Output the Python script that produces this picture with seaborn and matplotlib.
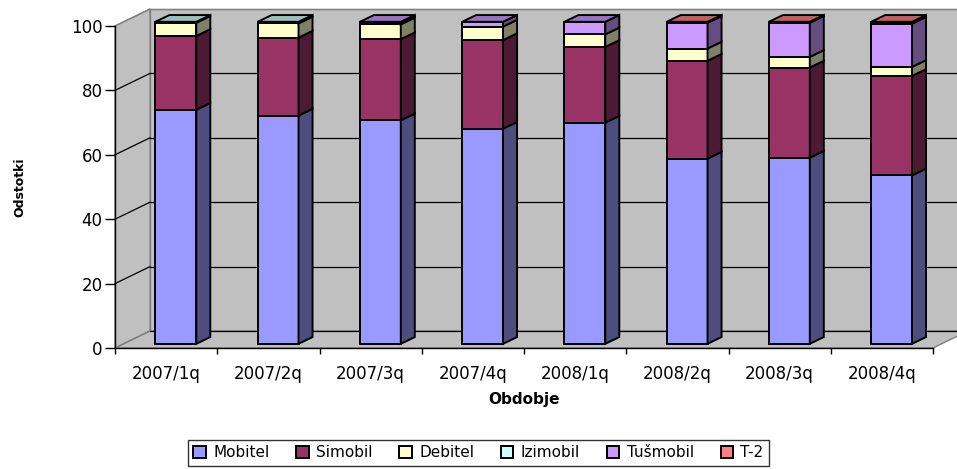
import numpy as np
import pandas as pd
import matplotlib
matplotlib.use("Agg")
import matplotlib.pyplot as plt
from matplotlib.patches import Polygon
from matplotlib.colors import to_rgb
import seaborn as sns

# deleži po četrtletjih (odčitano s slike)
obdobja = ["2007/1q", "2007/2q", "2007/3q", "2007/4q",
           "2008/1q", "2008/2q", "2008/3q", "2008/4q"]
operaterji = ["Mobitel", "Simobil", "Debitel", "Izimobil", "Tušmobil", "T-2"]
mobitel = [72.7, 70.9, 69.4, 66.8, 68.7, 57.5, 57.8, 52.3]
simobil = [22.9, 24.2, 25.2, 27.5, 23.5, 30.4, 28.0, 30.9]
debitel = [4.1, 4.4, 4.6, 4.2, 3.9, 3.8, 3.3, 2.8]
izimobil = [0.3, 0.5, 0.3, 0.0, 0.0, 0.0, 0.0, 0.0]
tusmobil = [0.0, 0.0, 0.5, 1.5, 3.9, 8.0, 10.6, 13.4]
t2 = [0.0, 0.0, 0.0, 0.0, 0.0, 0.3, 0.3, 0.6]
barve = ["#9999FF", "#993366", "#FFFFCC", "#CCFFFF", "#CC99FF", "#FF8080"]

df = pd.DataFrame({"Obdobje": obdobja, "Mobitel": mobitel, "Simobil": simobil,
                   "Debitel": debitel, "Izimobil": izimobil,
                   "Tušmobil": tusmobil, "T-2": t2})

sns.set_style("ticks")
plt.rcParams["font.family"] = ["DejaVu Sans"]
plt.rcParams["text.color"] = "black"
plt.rcParams["axes.labelcolor"] = "black"

fig = plt.figure(figsize=(9.57, 4.69), dpi=100)
ax = fig.add_axes([115 / 957, 121 / 469, 818 / 957, 322 / 469])
ax.set_facecolor("none")

# globina "3D" izgleda (v enotah osi)
DX, DY = 0.342, 5.28     # stena
BX, BY = 0.095, 1.3      # zamik stolpcev
SX, SY = 0.137, 2.1      # globina stolpca
x0, x1 = -0.5, len(obdobja) - 0.5
siva = "#C0C0C0"


def ploskev(tocke, fc, ec="black", lw=1.0, z=3):
    ax.add_patch(Polygon(tocke, closed=True, facecolor=fc, edgecolor=ec,
                         linewidth=lw, clip_on=False, zorder=z))


def temneje(c, f):
    return tuple(np.array(to_rgb(c)) * f)


# stene in tla
ploskev([(x0 + DX, DY), (x1 + DX, DY), (x1 + DX, 100 + DY), (x0 + DX, 100 + DY)],
        siva, "#808080", 1.0, 0.1)
ploskev([(x0, 0), (x0 + DX, DY), (x0 + DX, 100 + DY), (x0, 100)],
        siva, "#808080", 1.0, 0.1)
ploskev([(x0, 0), (x1, 0), (x1 + DX, DY), (x0 + DX, DY)], siva, "#808080", 1.0, 0.2)
for v in range(0, 101, 20):
    barva = "#808080" if v in (0, 100) else "black"
    ax.plot([x0, x0 + DX], [v, v + DY], color=barva, lw=0.9, clip_on=False, zorder=0.3)
    ax.plot([x0 + DX, x1 + DX], [v + DY, v + DY],
            color="black" if v == 0 else barva, lw=0.9, clip_on=False, zorder=0.3)

# naloženi stolpci
dno = np.zeros(len(obdobja))
stolpci = {}
for ime, barva in zip(operaterji, barve):
    n0 = len(ax.patches)
    sns.barplot(data=df, x="Obdobje", y=ime, bottom=dno, color=barva, saturation=1,
                width=0.4, edgecolor="black", linewidth=1.4, errorbar=None,
                label=ime, zorder=3, ax=ax)
    nove = list(ax.patches[n0:])
    for p in nove:
        p.set_x(p.get_x() + BX)
        p.set_y(p.get_y() + BY)
        p.set_clip_on(False)
    stolpci[ime] = nove
    for p in nove:
        h = p.get_height()
        if h <= 0:
            continue
        xa = p.get_x() + p.get_width()
        ya = p.get_y()
        ploskev([(xa, ya), (xa + SX, ya + SY), (xa + SX, ya + h + SY), (xa, ya + h)],
                temneje(barva, 0.5), lw=1.4)
    dno = dno + df[ime].to_numpy()

# pokrovi na vrhu
for i in range(len(obdobja)):
    for ime, barva in zip(operaterji[::-1], barve[::-1]):
        p = stolpci[ime][i]
        if p.get_height() > 0:
            xa, xb = p.get_x(), p.get_x() + p.get_width()
            yt = p.get_y() + p.get_height()
            ploskev([(xa, yt), (xb, yt), (xb + SX, yt + SY), (xa + SX, yt + SY)],
                    temneje(barva, 0.75), lw=1.4)
            break

ax.set_xlim(x0, x1)
ax.set_ylim(0, 100)
ax.set_yticks(range(0, 101, 20))
ax.set_xticks(range(len(obdobja)))
ax.set_xticklabels(obdobja)
ax.set_xticks(np.arange(x0, x1 + 0.01, 1), minor=True)
ax.tick_params(axis="y", length=7, width=1, color="black", pad=2,
               labelsize=12, labelcolor="black")
ax.tick_params(axis="x", which="major", length=0, pad=12,
               labelsize=12, labelcolor="black")
ax.tick_params(axis="x", which="minor", length=4, width=1, color="black")
for s in ["top", "right"]:
    ax.spines[s].set_visible(False)
for s in ["left", "bottom"]:
    ax.spines[s].set_color("black")
    ax.spines[s].set_linewidth(1)
    ax.spines[s].set_zorder(0.4)

ax.set_ylabel("Odstotki", fontsize=9, fontweight="bold", color="black")
ax.yaxis.set_label_coords(-0.108, 0.5)
ax.set_xlabel("Obdobje", fontsize=11, fontweight="bold", va="top", color="black")
ax.xaxis.set_label_coords(0.5, -0.137)

if ax.get_legend() is not None:
    ax.get_legend().remove()
h, l = ax.get_legend_handles_labels()
leg = fig.legend(h, l, loc="upper center", bbox_to_anchor=(0.5, 1 - 440 / 469),
                 ncol=6, fontsize=11, frameon=True, fancybox=False,
                 edgecolor="black", handlelength=0.8, handleheight=0.8,
                 handletextpad=0.5, columnspacing=1.75, borderpad=0.35,
                 borderaxespad=0)
leg.get_frame().set_linewidth(1)

fig.savefig("out.png", dpi=100)
